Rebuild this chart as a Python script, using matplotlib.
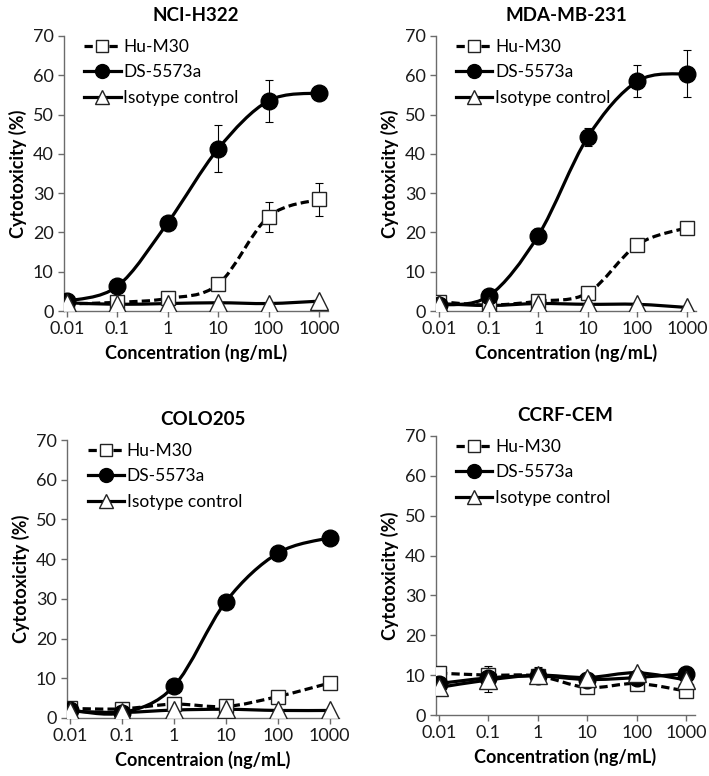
import numpy as np
import matplotlib
matplotlib.use("Agg")
import matplotlib.pyplot as plt
from matplotlib.path import Path
from matplotlib.patches import PathPatch
from matplotlib.lines import Line2D

plt.rcParams['font.family'] = ['Lato', 'DejaVu Sans']

conc = [0.01, 0.1, 1, 10, 100, 1000]
tick_labels = ["0.01", "0.1", "1", "10", "100", "1000"]
series_names = ["Hu-M30", "DS-5573a", "Isotype control"]

titles = ["NCI-H322", "MDA-MB-231", "COLO205", "CCRF-CEM"]
xlabels = ["Concentration (ng/mL)", "Concentration (ng/mL)",
           "Concentraion (ng/mL)", "Concentration (ng/mL)"]

# NCI-H322
h322_hu = [1.8, 2.2, 3.2, 6.8, 24.0, 28.4]
h322_hu_err = [0.3, 0.3, 0.4, 0.5, 3.8, 4.2]
h322_ds = [2.5, 6.3, 22.5, 41.3, 53.5, 55.5]
h322_ds_err = [0.3, 0.4, 0.5, 6.0, 5.3, 1.8]
h322_iso = [2.1, 1.7, 1.9, 2.1, 1.9, 2.5]
h322_iso_err = [0.3, 0.3, 0.3, 0.3, 0.3, 0.3]

# MDA-MB-231
mda_hu = [2.4, 1.5, 2.5, 4.6, 16.9, 21.2]
mda_hu_err = [0.3, 0.3, 0.3, 0.4, 0.4, 0.5]
mda_ds = [1.5, 3.8, 19.2, 44.3, 58.5, 60.4]
mda_ds_err = [0.3, 0.5, 2.0, 2.3, 4.0, 6.0]
mda_iso = [1.9, 1.4, 1.9, 1.7, 1.7, 0.9]
mda_iso_err = [0.3, 0.3, 0.3, 0.3, 0.3, 0.3]

# COLO205
colo_hu = [2.4, 2.3, 3.5, 2.9, 5.4, 8.8]
colo_hu_err = [0.3, 0.3, 0.3, 0.3, 0.4, 0.4]
colo_ds = [2.0, 1.3, 8.0, 29.3, 41.5, 45.4]
colo_ds_err = [0.3, 0.3, 0.5, 0.6, 0.6, 1.2]
colo_iso = [1.7, 1.4, 2.0, 2.2, 1.9, 1.9]
colo_iso_err = [0.3, 0.3, 0.3, 0.3, 0.3, 0.3]

# CCRF-CEM
ccrf_hu = [10.5, 10.0, 9.8, 6.9, 7.9, 6.0]
ccrf_hu_err = [0.5, 2.4, 0.8, 0.5, 0.5, 0.5]
ccrf_ds = [7.9, 9.3, 9.8, 8.9, 9.4, 10.4]
ccrf_ds_err = [0.4, 0.6, 1.5, 0.5, 0.6, 0.5]
ccrf_iso = [6.9, 8.8, 10.0, 9.4, 10.6, 8.8]
ccrf_iso_err = [0.5, 3.0, 2.0, 0.5, 0.6, 0.5]

panels = [
    (h322_hu, h322_hu_err, h322_ds, h322_ds_err, h322_iso, h322_iso_err),
    (mda_hu, mda_hu_err, mda_ds, mda_ds_err, mda_iso, mda_iso_err),
    (colo_hu, colo_hu_err, colo_ds, colo_ds_err, colo_iso, colo_iso_err),
    (ccrf_hu, ccrf_hu_err, ccrf_ds, ccrf_ds_err, ccrf_iso, ccrf_iso_err),
]

W, H = 709, 776
fig = plt.figure(figsize=(W / 100, H / 100), dpi=100)

# axes boxes in pixels: left, right, top, bottom
boxes = [(64, 328, 36, 311), (436, 696, 36, 311),
         (67, 339, 440, 718), (436, 695, 436, 715)]

AXC = '#6b6b6b'
DASH = (0, (2.6, 1.3))


def smooth_path(xs, ys):
    lx = np.log10(np.asarray(xs, float))
    y = np.asarray(ys, float)
    P = np.column_stack([lx, y])
    n = len(P)
    verts = [P[0]]
    codes = [Path.MOVETO]
    for i in range(n - 1):
        p0 = P[i - 1] if i > 0 else P[i]
        p1 = P[i]
        p2 = P[i + 1]
        p3 = P[i + 2] if i + 2 < n else P[i + 1]
        c1 = p1 + (p2 - p0) / 6.0
        c2 = p2 - (p3 - p1) / 6.0
        verts += [c1, c2, p2]
        codes += [Path.CURVE4] * 3
    V = np.array(verts)
    V[:, 0] = 10 ** V[:, 0]
    return Path(V, codes)


for k, (box, data) in enumerate(zip(boxes, panels)):
    l, r, t, b = box
    ax = fig.add_axes([l / W, 1 - b / H, (r - l) / W, (b - t) / H])
    ax.set_xscale('log')
    ax.set_xlim(10 ** -2.06, 10 ** 3.18)
    ax.set_ylim(0, 70)
    hu, hue, ds, dse, iso, isoe = data

    styles = [
        (hu, hue, 's', 'white', DASH, 10.5),
        (ds, dse, 'o', 'black', '-', 12),
        (iso, isoe, '^', 'white', '-', 12.5),
    ]
    for z, (vals, errs, mk, fc, ls, ms) in enumerate(styles):
        ax.errorbar(conc, vals, yerr=errs, fmt='none', ecolor='black',
                    elinewidth=0.8, capsize=3, capthick=0.8, zorder=2)
        patch = PathPatch(smooth_path(conc, vals), fill=False, lw=2.3,
                          ec='black', linestyle=ls, zorder=3,
                          transform=ax.transData)
        ax.add_patch(patch)
        ax.plot(conc, vals, linestyle='none', marker=mk, ms=ms, mfc=fc,
                mec='black' if fc == 'black' else '#222222', mew=1.0,
                zorder=4 + z)

    for s in ['top', 'right']:
        ax.spines[s].set_visible(False)
    for s in ['left', 'bottom']:
        ax.spines[s].set_color(AXC)
        ax.spines[s].set_linewidth(1.0)
    ax.set_xticks(conc)
    ax.set_xticklabels(tick_labels)
    ax.minorticks_off()
    ax.set_yticks(range(0, 71, 10))
    ax.tick_params(axis='both', colors=AXC, labelcolor='#1a1a1a',
                   labelsize=13, length=4, width=1.0, direction='out')
    ax.tick_params(axis='x', pad=3)
    ax.set_xlabel(xlabels[k], fontsize=13, fontweight='bold', labelpad=5)
    ax.set_ylabel("Cytotoxicity (%)", fontsize=13, fontweight='bold', labelpad=4)
    ax.set_title(titles[k], fontsize=13.5, fontweight='bold', pad=11)

    handles = [
        Line2D([], [], color='black', lw=2.3, ls=DASH, marker='s',
               ms=9, mfc='white', mec='#222222'),
        Line2D([], [], color='black', lw=2.3, marker='o', ms=10, mfc='black'),
        Line2D([], [], color='black', lw=2.3, marker='^', ms=10, mfc='white',
               mec='#222222'),
    ]
    ax.legend(handles, series_names, loc='upper left', bbox_to_anchor=(0.05, 1.015),
              frameon=False, fontsize=12.5, handlelength=2.1, handletextpad=0.15,
              labelspacing=0.55, borderaxespad=0.0)

fig.savefig('out.png', dpi=100)
